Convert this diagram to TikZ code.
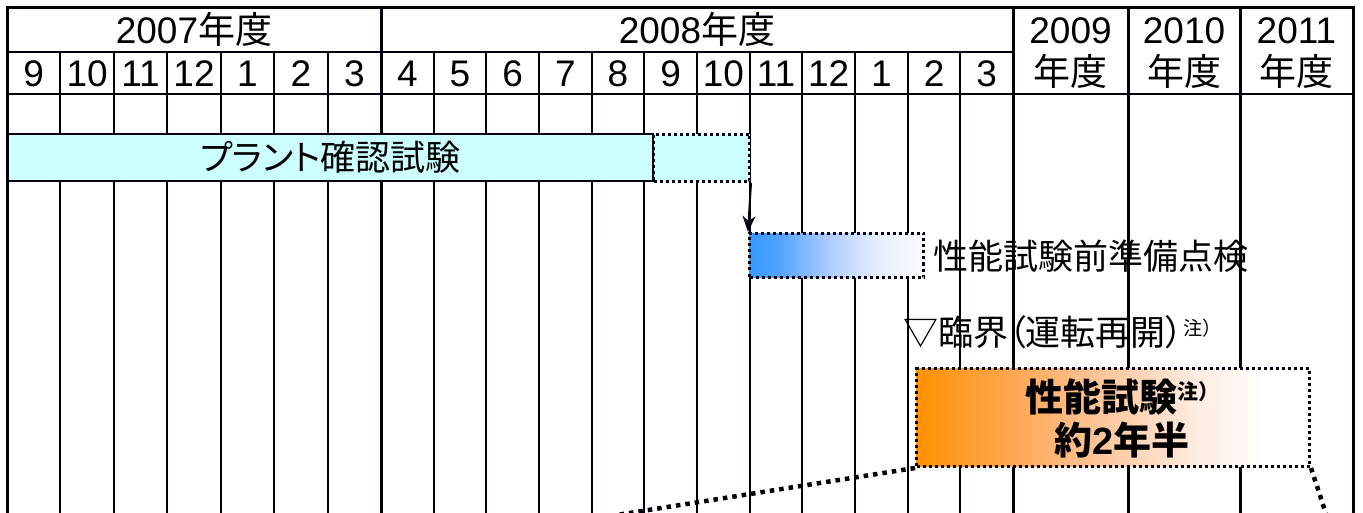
\documentclass[tikz,border=0pt]{standalone}
\usepackage{fontspec}
\setmainfont{Liberation Sans}
\newfontfamily\jpf[RawFeature=+palt]{Noto Sans CJK JP}
\newfontfamily\jpfs[Scale=0.55]{Noto Sans CJK JP}
\usetikzlibrary{arrows.meta}
\definecolor{gridc}{HTML}{00000C}
\definecolor{txtc}{HTML}{000000}
\definecolor{cyanf}{HTML}{CCFFFF}
\definecolor{bA}{HTML}{3399FF}
\definecolor{bB}{HTML}{55A4FF}
\definecolor{bC}{HTML}{AECCFF}
\definecolor{bD}{HTML}{E4ECFF}
\definecolor{bE}{HTML}{FAFBFF}
\definecolor{oA}{HTML}{FF9200}
\definecolor{oB}{HTML}{FFA44A}
\definecolor{oC}{HTML}{FFC498}
\definecolor{oD}{HTML}{FFEADF}
\pgfdeclarehorizontalshading{blueshade}{100bp}{color(0bp)=(bA); color(25bp)=(bA); color(34bp)=(bB); color(48bp)=(bC); color(61bp)=(bD); color(75bp)=(bE); color(100bp)=(bE)}
\pgfdeclarehorizontalshading{orangeshade}{100bp}{color(0bp)=(oA); color(25bp)=(oA); color(36bp)=(oB); color(48bp)=(oC); color(60bp)=(oD); color(69bp)=(white); color(100bp)=(white)}
\newcommand{\chu}[1]{\raisebox{#1}{\jpfs 注）}}
\begin{document}
\begin{tikzpicture}[x=1pt,y=-1pt,
  thinln/.style={line width=2pt, draw=gridc},
  thickln/.style={line width=3pt, draw=gridc},
  hdr/.style={font=\fontsize{37}{40}\selectfont, inner sep=0pt, anchor=base, text=txtc},
  lbl/.style={font=\fontsize{35}{40}\selectfont, inner sep=0pt, text=txtc},
  dotbox/.style={draw=gridc, line width=3pt, dash pattern=on 3pt off 3pt, inner sep=0pt, anchor=north west},
  bigdots/.style={draw=gridc, line width=4.5pt, dash pattern=on 4.5pt off 5pt},
]
\useasboundingbox (0,0) rectangle (1363,513);
\clip (0,0) rectangle (1363,513);
\fill[white] (0,0) rectangle (1363,513);
% grid
\foreach \i in {1,...,6} \draw[thinln] ({7+53.43*\i},52) -- ({7+53.43*\i},520);
\foreach \i in {1,...,11} \draw[thinln] ({381+52.67*\i},52) -- ({381+52.67*\i},520);
\foreach \x in {7,381,1013,1128,1240,1353} \draw[thickln] (\x,8) -- (\x,520);
\draw[thickln] (5.5,8) -- (1354.5,8);
\draw[thinln] (7,52) -- (1013,52);
\draw[thinln] (7,94) -- (1353,94);
% headers
\node[hdr] (y2007) at (194,43.5) {2007{\jpf 年度}};
\node[hdr] (y2008) at (697,43.5) {2008{\jpf 年度}};
\node[hdr] (y2009a) at (1070.5,44) {2009};
\node[hdr] (y2009b) at (1070.5,86) {\jpf 年度};
\node[hdr] (y2010a) at (1184,44) {2010};
\node[hdr] (y2010b) at (1184,86) {\jpf 年度};
\node[hdr] (y2011a) at (1296.5,44) {2011};
\node[hdr] (y2011b) at (1296.5,86) {\jpf 年度};
\foreach \lab [count=\i from 0] in {9,10,11,12,1,2,3}
  \node[hdr] (ma\i) at ({7+53.43*(\i+0.5)},87) {\lab};
\foreach \lab [count=\i from 0] in {4,5,6,7,8,9,10,11,12,1,2,3}
  \node[hdr] (mb\i) at ({381+52.67*(\i+0.5)},87) {\lab};
% bars
\node[lbl, draw=gridc, line width=2pt, fill=cyanf, inner sep=0pt, anchor=north west, minimum width=645pt, minimum height=47pt] (plant) at (7,133) {\jpf プラント確認試験};
\node[dotbox, fill=cyanf, minimum width=96pt, minimum height=47pt] (plantx) at (652,133) {};
\node[dotbox, shade, shading=blueshade, minimum width=174pt, minimum height=44pt] (prep) at (748,232) {};
\draw[line width=2pt, draw=gridc, -{Stealth[length=16pt,width=13pt]}] (plantx.south east) -- (prep.north west);
\node[lbl, anchor=west] (preplbl) at (933,256) {\jpf 性能試験前準備点検};
\node[lbl, anchor=west] (crit) at (903,332) {\jpf ▽臨界（運転再開）\chu{10pt}};
\node[dotbox, shade, shading=orangeshade, minimum width=393pt, minimum height=98pt] (perf) at (915,367) {};
\node[font=\fontsize{38}{43}\selectfont\bfseries, align=center, inner sep=0pt, text=txtc] (perflbl) at (1122,418) {{\jpf 性能試験}\chu{12pt}\\{\jpf 約}2{\jpf 年半}};
\coordinate (c1) at (585,520);
\coordinate (c2) at (1328,520);
\draw[bigdots] (perf.south west) -- (c1);
\draw[bigdots] (perf.south east) -- (c2);
\end{tikzpicture}
\end{document}
